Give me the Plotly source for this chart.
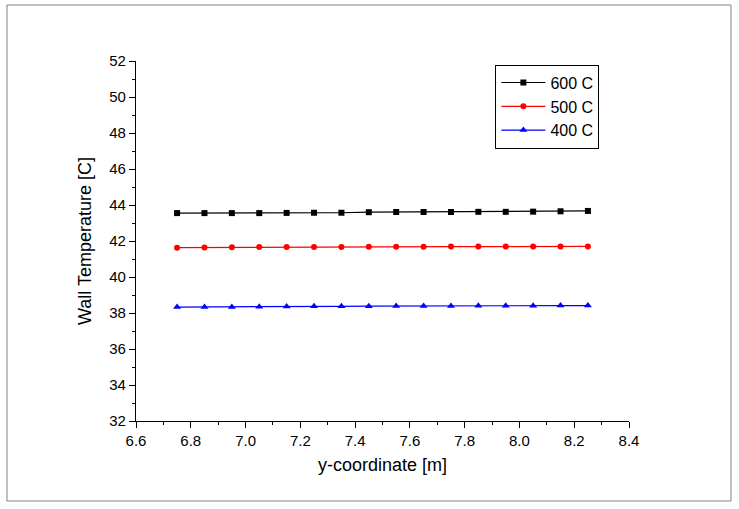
import plotly.graph_objects as go

# y-coordinate [m]
y_coord = [6.75, 6.85, 6.95, 7.05, 7.15, 7.25, 7.35, 7.45,
           7.55, 7.65, 7.75, 7.85, 7.95, 8.05, 8.15, 8.25]

# wall temperature [C] per inlet temperature
t600 = [43.55, 43.55, 43.55, 43.55, 43.56, 43.57, 43.57, 43.60,
        43.61, 43.61, 43.61, 43.62, 43.62, 43.63, 43.65, 43.67]
t500 = [41.63, 41.64, 41.65, 41.66, 41.66, 41.67, 41.67, 41.68,
        41.68, 41.68, 41.69, 41.69, 41.69, 41.70, 41.70, 41.70]
t400 = [38.33, 38.33, 38.34, 38.35, 38.36, 38.37, 38.37, 38.38,
        38.39, 38.39, 38.39, 38.40, 38.40, 38.40, 38.41, 38.41]

series = [
    ("600 C", t600, "black", "square"),
    ("500 C", t500, "red", "circle"),
    ("400 C", t400, "blue", "triangle-up"),
]

FONT = "Liberation Sans, Arial"

fig = go.Figure()
for name, vals, col, sym in series:
    fig.add_trace(go.Scatter(
        x=y_coord, y=vals, name=name, mode="lines+markers",
        line=dict(color=col, width=1.2),
        marker=dict(color=col, symbol=sym, size=6 if sym != "triangle-up" else 7),
    ))

axis_common = dict(
    showline=True, linecolor="black", linewidth=1.2,
    ticks="outside", ticklen=6, tickwidth=1, tickcolor="black",
    showgrid=False, zeroline=False, mirror=False,
    tickfont=dict(family=FONT, size=15, color="black"),
)

fig.update_xaxes(
    range=[6.6, 8.4], dtick=0.2, tick0=6.6, tickformat=".1f",
    minor=dict(dtick=0.1, ticks="outside", ticklen=3, tickcolor="black", showgrid=False),
    title=dict(text="y-coordinate [m]", font=dict(family=FONT, size=18, color="black"), standoff=10),
    **axis_common,
)
fig.update_yaxes(
    range=[32, 52], dtick=2, tick0=32,
    minor=dict(dtick=1, ticks="outside", ticklen=3, tickcolor="black", showgrid=False),
    title=dict(text="Wall Temperature [C]", font=dict(family=FONT, size=18, color="black"), standoff=12),
    **axis_common,
)

# outer frame around the whole figure
fig.add_shape(type="rect", xref="paper", yref="paper",
              x0=-0.2617, x1=1.2069, y0=-0.2222, y1=1.1556,
              line=dict(color="#808080", width=1))

fig.update_layout(
    width=739, height=509,
    margin=dict(l=136, r=110, t=61, b=88),
    paper_bgcolor="white", plot_bgcolor="white",
    font=dict(family=FONT, color="black"),
    showlegend=True,
    legend=dict(
        x=0.729, y=0.99, xanchor="left", yanchor="top",
        bordercolor="black", borderwidth=1, bgcolor="white",
        font=dict(size=16, color="black"),
        tracegroupgap=0, itemwidth=44,
    ),
)

# drop the page margin so the figure sits at the window's corner
fig.write_html("out.html", config={"displayModeBar": False},
               post_script="document.body.style.margin='0';")
